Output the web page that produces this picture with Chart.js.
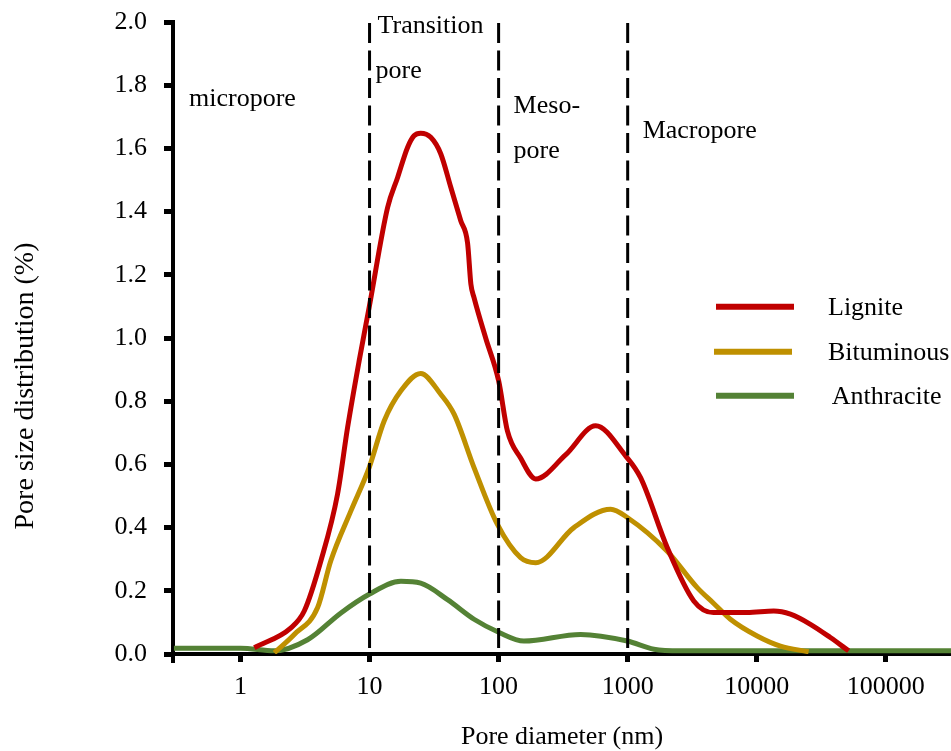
<!DOCTYPE html>
<html>
<head>
<meta charset="utf-8">
<script src="https://cdn.jsdelivr.net/npm/chart.js@4/dist/chart.umd.min.js"></script>
<style>
html,body{margin:0;padding:0;background:#fff;}
#wrap{width:951px;height:751px;}
</style>
</head>
<body>
<div id="wrap"><canvas id="c" width="951" height="751"></canvas></div>
<script>
// ---- data ----
const X_TICKS = [1, 10, 100, 1000, 10000, 100000];
const X_MIN = 0.305, X_MAX = 320000;
const Y_MIN = 0, Y_MAX = 2, Y_STEP = 0.2;
const BOUNDARIES = [10, 100, 1000];
const REGION_LABELS = [["micropore"], ["Transition", "pore"], ["Meso-", "pore"], ["Macropore"]];
const SERIES_NAMES = ["Lignite", "Bituminous", "Anthracite"];
const X_TITLE = "Pore diameter (nm)";
const Y_TITLE = "Pore size distribution (%)";

const LIGNITE_X = [1.28, 2.46, 3.12, 4.20, 5.65, 6.76, 8.31, 9.93, 13.8, 16.5, 19.7, 22.1, 24.9, 29.8, 35.6, 42.6, 50.9, 57.5, 61, 64.5, 79.4, 100, 117, 148, 194, 330, 565, 964, 1259, 2025, 3252, 4624, 8433, 13540, 18240, 26060, 37180, 51520];
const LIGNITE_Y = [0.02, 0.083, 0.136, 0.295, 0.506, 0.717, 0.928, 1.097, 1.413, 1.508, 1.603, 1.64, 1.648, 1.635, 1.583, 1.477, 1.371, 1.30, 1.17, 1.128, 1.0, 0.865, 0.706, 0.62, 0.554, 0.63, 0.722, 0.627, 0.558, 0.337, 0.168, 0.131, 0.131, 0.136, 0.126, 0.094, 0.052, 0.01];

const BITUMINOUS_X = [1.83, 2.61, 3.96, 5.01, 7.17, 9.93, 13.0, 17.5, 24.9, 35.6, 45.2, 64.5, 97.9, 148, 194, 383, 738, 993, 2025, 3457, 4645, 6252, 10070, 15250, 25240];
const BITUMINOUS_Y = [0.004, 0.062, 0.147, 0.295, 0.453, 0.59, 0.738, 0.833, 0.888, 0.822, 0.759, 0.59, 0.41, 0.305, 0.289, 0.40, 0.458, 0.432, 0.325, 0.21, 0.16, 0.11, 0.057, 0.025, 0.007];

const ANTHRACITE_X = [0.305, 1.0, 1.83, 3.31, 6.0, 9.93, 17.5, 24.9, 40.2, 64.5, 101, 157, 432, 993, 1596, 2566, 10000, 100000, 320000];
const ANTHRACITE_Y = [0.018, 0.018, 0.01, 0.045, 0.13, 0.189, 0.23, 0.224, 0.172, 0.11, 0.068, 0.041, 0.062, 0.041, 0.015, 0.01, 0.01, 0.01, 0.01];

const COLORS = ["#C00000", "#BF9000", "#548235"];

// ---- build ----
const toPts = (xs, ys) => xs.map((x, i) => ({x: x, y: ys[i]}));
const SERIES = [toPts(LIGNITE_X, LIGNITE_Y), toPts(BITUMINOUS_X, BITUMINOUS_Y), toPts(ANTHRACITE_X, ANTHRACITE_Y)];

const FONT = "'Liberation Serif', 'Times New Roman', serif";
Chart.defaults.font.family = FONT;
Chart.defaults.color = '#000';

const overlay = {
  id: 'overlay',
  afterDatasetsDraw(chart) {
    const {ctx, chartArea: a, scales: {x}} = chart;
    ctx.save();
    ctx.strokeStyle = '#000';
    ctx.lineWidth = 3;
    ctx.setLineDash([20, 7.5]);
    BOUNDARIES.forEach(b => {
      const px = x.getPixelForValue(b);
      ctx.beginPath();
      ctx.moveTo(px, a.top + 1);
      ctx.lineTo(px, a.bottom);
      ctx.stroke();
    });
    ctx.setLineDash([]);
    ctx.fillStyle = '#000';
    ctx.font = '26px ' + FONT;
    ctx.textAlign = 'left';
    ctx.textBaseline = 'alphabetic';
    ctx.fillText(REGION_LABELS[0][0], a.left + 16, 106);
    const x10 = x.getPixelForValue(BOUNDARIES[0]);
    ctx.fillText(REGION_LABELS[1][0], x10 + 8, 32.5);
    ctx.fillText(REGION_LABELS[1][1], x10 + 6, 77.5);
    const x100 = x.getPixelForValue(BOUNDARIES[1]);
    ctx.fillText(REGION_LABELS[2][0], x100 + 15, 113.3);
    ctx.fillText(REGION_LABELS[2][1], x100 + 15, 158.3);
    const x1000 = x.getPixelForValue(BOUNDARIES[2]);
    ctx.fillText(REGION_LABELS[3][0], x1000 + 15, 138);
    ctx.restore();
  },
  afterDraw(chart) {
    const {ctx, chartArea: a} = chart;
    ctx.save();
    ctx.strokeStyle = '#000';
    ctx.lineWidth = 4;
    ctx.beginPath();
    ctx.moveTo(a.left, a.bottom);
    ctx.lineTo(a.left, a.bottom + 9);
    ctx.stroke();
    const rowsY = [306.7, 351.7, 395.7];
    const lineX = [[716, 794], [714, 792], [716, 794]];
    const textX = [828, 828, 831.7];
    ctx.font = '26px ' + FONT;
    ctx.textAlign = 'left';
    ctx.textBaseline = 'middle';
    chart.data.datasets.forEach((ds, i) => {
      ctx.strokeStyle = ds.borderColor;
      ctx.lineWidth = 6;
      ctx.lineCap = 'butt';
      ctx.beginPath();
      ctx.moveTo(lineX[i][0], rowsY[i]);
      ctx.lineTo(lineX[i][1], rowsY[i]);
      ctx.stroke();
      ctx.fillStyle = '#000';
      ctx.fillText(ds.label, textX[i], rowsY[i] + 1);
    });
    ctx.translate(26, 386);
    ctx.rotate(-Math.PI / 2);
    ctx.textAlign = 'center';
    ctx.textBaseline = 'middle';
    ctx.font = '28px ' + FONT;
    ctx.fillText(Y_TITLE, 0, 0);
    ctx.restore();
  }
};

new Chart(document.getElementById('c'), {
  type: 'line',
  data: {
    datasets: SERIES.map((pts, i) => ({
      label: SERIES_NAMES[i],
      data: pts,
      borderColor: COLORS[i],
      backgroundColor: COLORS[i],
      borderWidth: 5,
      pointRadius: 0,
      fill: false,
      cubicInterpolationMode: 'monotone',
      borderCapStyle: 'butt',
      borderJoinStyle: 'round'
    }))
  },
  options: {
    responsive: false,
    animation: false,
    devicePixelRatio: 1,
    layout: {padding: {top: 22, right: 0, left: 0, bottom: 0}},
    plugins: {legend: {display: false}, tooltip: {enabled: false}},
    scales: {
      x: {
        type: 'logarithmic',
        min: X_MIN,
        max: X_MAX,
        afterBuildTicks: (s) => { s.ticks = X_TICKS.map(v => ({value: v})); },
        afterFit: (s) => { s.height = 97; s.paddingLeft = 0; s.paddingRight = 0; },
        ticks: {
          autoSkip: false,
          maxRotation: 0,
          padding: 10,
          font: {size: 26, family: FONT},
          color: '#000',
          callback: (v) => String(v)
        },
        grid: {drawOnChartArea: false, drawTicks: true, tickLength: 8, tickWidth: 5, tickColor: '#000'},
        border: {display: true, color: '#000', width: 4},
        title: {display: true, text: X_TITLE, color: '#000', font: {size: 26, family: FONT, lineHeight: 1}, padding: {top: 0, bottom: 1}}
      },
      y: {
        min: Y_MIN,
        max: Y_MAX,
        afterFit: (s) => { s.width = 173; s.paddingTop = 0; s.paddingBottom = 0; },
        ticks: {
          stepSize: Y_STEP,
          padding: 17,
          font: {size: 26, family: FONT},
          color: '#000',
          callback: (v) => Number(v).toFixed(1)
        },
        grid: {drawOnChartArea: false, drawTicks: true, tickLength: 9, tickWidth: 5, tickColor: '#000'},
        border: {display: true, color: '#000', width: 4}
      }
    }
  },
  plugins: [overlay]
});
</script>
</body>
</html>
